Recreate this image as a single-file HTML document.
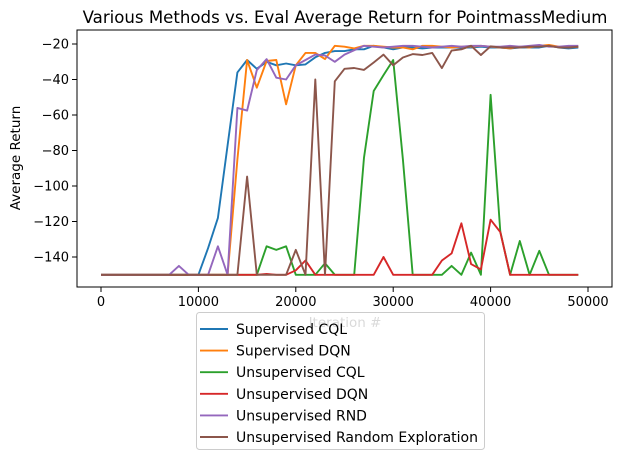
<!DOCTYPE html>
<html><head><meta charset="utf-8"><style>
body{margin:0;background:#fff;}
svg{display:block;font-family:"DejaVu Sans","Liberation Sans",sans-serif;}
</style></head><body>
<svg id="chart" width="620" height="458">
<text x="345" y="23" text-anchor="middle" font-size="16.6">Various Methods vs. Eval Average Return for PointmassMedium</text>
<g id="marks"></g>
<rect x="77" y="30" width="535" height="257" fill="none" stroke="#000" stroke-width="1"/>
<g id="xticks"></g><g id="yticks"></g>
<text x="345" y="327" text-anchor="middle" font-size="13.5">Iteration #</text>
<text transform="translate(20,158) rotate(-90)" text-anchor="middle" font-size="13.5">Average Return</text>
<g id="legend"></g>
</svg>
<script>
const iterations = Array.from({length:50},(_, i)=>i*1000);
const supCQL = [-150,-150,-150,-150,-150,-150,-150,-150,-150,-150,-150,-135,-118,-77,-36,-29,-34,-30,-32,-31,-32,-31.5,-27.5,-25,-24,-24,-23,-23,-21,-22,-23,-22,-22,-22.5,-22,-22,-22,-22,-22,-21.5,-22,-22,-22.5,-22,-22,-22,-21,-22,-22.5,-22];
const supDQN = [-150,-150,-150,-150,-150,-150,-150,-150,-150,-150,-150,-150,-150,-150,-85,-29,-44.6,-29.6,-29,-54,-32,-25,-25,-28.5,-21,-21.5,-22.5,-21,-21,-21.5,-22,-22,-23,-21,-21,-21.5,-22,-21.5,-21.5,-21,-21.5,-22,-22.5,-21.5,-22,-21,-20.5,-21.5,-22,-21.5];
const unsCQL = [-150,-150,-150,-150,-150,-150,-150,-150,-150,-150,-150,-150,-150,-150,-150,-150,-150,-134,-136,-134,-150,-150,-150,-143.5,-150,-150,-150,-84,-46.5,-37.5,-29,-85,-150,-150,-150,-150,-145,-150,-137.5,-150,-48.6,-125.7,-150,-131,-150,-136.5,-150,-150,-150,-150];
const unsDQN = [-150,-150,-150,-150,-150,-150,-150,-150,-150,-150,-150,-150,-150,-150,-150,-150,-150,-149.5,-150,-150,-147.5,-142,-150,-150,-150,-150,-150,-150,-150,-140,-150,-150,-150,-150,-150,-142,-138,-121,-144,-147,-119,-126,-150,-150,-150,-150,-150,-150,-150,-150];
const unsRND = [-150,-150,-150,-150,-150,-150,-150,-150,-145,-150,-150,-150,-134,-150,-56,-57.5,-34.7,-28.5,-39,-40,-32,-29,-26,-26.5,-30,-26,-23.5,-21,-21.5,-22,-21.5,-21,-21,-21.5,-22,-21.5,-21,-21.5,-21,-21,-21.5,-21.5,-21,-21.5,-21,-20.5,-21.5,-21.5,-21,-21];
const unsRandom = [-150,-150,-150,-150,-150,-150,-150,-150,-150,-150,-150,-150,-150,-150,-150,-94.7,-150,-150,-150,-150,-136,-150,-40,-150,-41,-34,-33.5,-34.6,-30.4,-26,-32,-27.6,-25.7,-26.2,-25,-33.6,-23.7,-23,-21,-26.2,-21.3,-22,-22,-22,-21.5,-21.5,-21,-22,-22,-21.5];
const seriesNames = ["Supervised CQL","Supervised DQN","Unsupervised CQL","Unsupervised DQN","Unsupervised RND","Unsupervised Random Exploration"];
const seriesData = [supCQL,supDQN,unsCQL,unsDQN,unsRND,unsRandom];
const colors = ["#1f77b4","#ff7f0e","#2ca02c","#d62728","#9467bd","#8c564b"];
const xTicks = [0,10000,20000,30000,40000,50000];
const yTicks = [-20,-40,-60,-80,-100,-120,-140];

const NS="http://www.w3.org/2000/svg";
const X = v => 101 + v*(487/50000);
const Y = v => 44 + (-20 - v)*(213/120);
function mk(t,a,p){const e=document.createElementNS(NS,t);for(const k in a)e.setAttribute(k,a[k]);p.appendChild(e);return e;}

const marks=document.getElementById('marks');
seriesData.forEach((d,s)=>{
  const pts=d.map((v,i)=>X(iterations[i]).toFixed(1)+","+Y(v).toFixed(1)).join(" ");
  const pl=mk('polyline',{points:pts,fill:'none',stroke:colors[s],'stroke-width':1.9,'stroke-linejoin':'round'},marks);
  
  
});
const xt=document.getElementById('xticks');
xTicks.forEach(t=>{
  const l=mk('line',{x1:X(t),x2:X(t),y1:287,y2:292,stroke:'#000'},xt);
  
  
  const tx=mk('text',{x:X(t),y:306,'text-anchor':'middle','font-size':13},xt);
  tx.textContent=t;
  
  
});
const yt=document.getElementById('yticks');
yTicks.forEach(t=>{
  const l=mk('line',{x1:72,x2:77,y1:Y(t),y2:Y(t),stroke:'#000'},yt);
  
  
  const tx=mk('text',{x:69,y:Y(t)+4.5,'text-anchor':'end','font-size':13},yt);
  tx.textContent='\u2212'+Math.abs(t);
  
  
});
const lg=document.getElementById('legend');
const box=mk('rect',{x:196.5,y:312.5,width:288,height:137,rx:3,fill:'#fff','fill-opacity':0.85,stroke:'#ccc'},lg);


seriesNames.forEach((n,s)=>{
  const y=329+s*21.6;
  const l=mk('line',{x1:200,x2:228,y1:y,y2:y,stroke:colors[s],'stroke-width':1.9},lg);
  
  
  const tx=mk('text',{x:236,y:y+5,'font-size':14},lg);
  tx.textContent=n;
  
  
});
</script>
</body></html>
